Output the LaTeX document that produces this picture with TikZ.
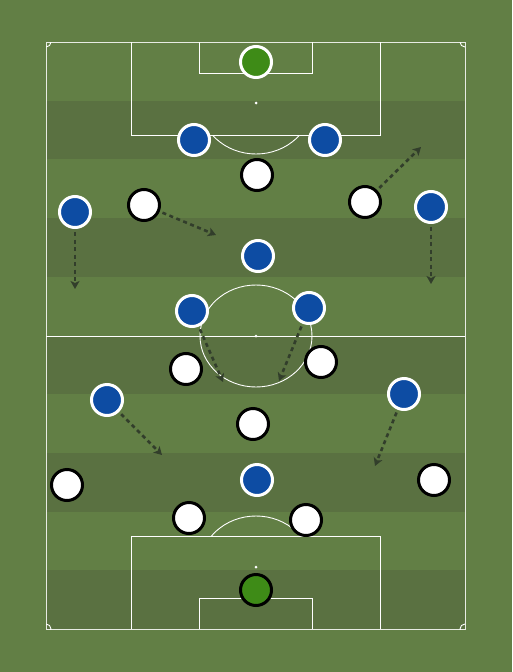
\documentclass[tikz,border=0pt]{standalone}
\usetikzlibrary{arrows.meta}
\definecolor{grass}{HTML}{627F45}
\definecolor{dgrass}{HTML}{5A7141}
\definecolor{pblue}{HTML}{0D4CA3}
\definecolor{gkgreen}{HTML}{3E8B17}
\definecolor{runcol}{HTML}{323E2B}
\tikzset{
  pline/.style={draw=white, line width=0.9pt},
  bplayer/.style={circle, fill=pblue, draw=white, line width=3pt, minimum size=31pt, inner sep=0pt},
  wplayer/.style={circle, fill=white, draw=black, line width=3pt, minimum size=31pt, inner sep=0pt},
  gkone/.style={circle, fill=gkgreen, draw=white, line width=3pt, minimum size=31pt, inner sep=0pt},
  gktwo/.style={circle, fill=gkgreen, draw=black, line width=3pt, minimum size=31pt, inner sep=0pt},
  run/.style={draw=runcol, line width=2.6pt, dash pattern=on 4pt off 3.5pt, shorten <=3pt, -{Stealth[length=8pt,width=9pt,inset=2pt]}}
}
\begin{document}
\begin{tikzpicture}[x=1pt,y=-1pt]
\fill[grass] (0,0) rectangle (512,672);
\useasboundingbox (0,0) rectangle (512,672);
% stripes
\foreach \yy in {100.7,218.1,335.5,452.9,570.3}
  \fill[dgrass] (46,\yy) rectangle (465,\yy+58.7);
% outline
\draw[pline, draw opacity=0.85] (46,42) rectangle (465,629);
\draw[pline] (46,336) -- (465,336);
\draw[pline] (256,336) ellipse [x radius=56pt, y radius=51pt];
\fill[white] (256,336) circle[radius=1.5pt];
% top
\draw[pline] (131,42) -- (131,135) -- (380,135) -- (380,42);
\draw[pline] (199,42) -- (199,73) -- (312,73) -- (312,42);
\fill[white] (256,103) circle[radius=1.5pt];
\begin{scope}
  \clip (0,135) rectangle (512,300);
  \draw[pline] (256,103) ellipse [x radius=56pt, y radius=51pt];
\end{scope}
% bottom
\draw[pline] (131,629) -- (131,536) -- (380,536) -- (380,629);
\draw[pline] (199,629) -- (199,598) -- (312,598) -- (312,629);
\fill[white] (256,567) circle[radius=1.5pt];
\begin{scope}
  \clip (0,400) rectangle (512,536);
  \draw[pline] (256,567) ellipse [x radius=56pt, y radius=51pt];
\end{scope}
% corners
\begin{scope}
  \clip (46,42) rectangle (465,629);
  \foreach \cx/\cy in {46/42,465/42,46/629,465/629}
    \draw[pline] (\cx,\cy) circle[radius=5pt];
\end{scope}
% run targets
\coordinate (e1) at (216,235);
\coordinate (e2) at (75,289);
\coordinate (e3) at (421,147);
\coordinate (e4) at (431,284);
\coordinate (e5) at (223,382);
\coordinate (e6) at (279,381);
\coordinate (e7) at (162,455);
\coordinate (e8) at (375,466);
% blue team
\node[gkone] (bgk) at (256,62) {};
\node[bplayer] (b1) at (194,140) {};
\node[bplayer] (b2) at (325,140) {};
\node[bplayer] (b3) at (75,212) {};
\node[bplayer] (b4) at (431,207) {};
\node[bplayer] (b5) at (258,256) {};
\node[bplayer] (b6) at (192,311) {};
\node[bplayer] (b7) at (309,308) {};
\node[bplayer] (b8) at (107,400) {};
\node[bplayer] (b9) at (404,394) {};
\node[bplayer] (b10) at (257,480) {};
% white team
\node[wplayer] (w1) at (257,175) {};
\node[wplayer] (w2) at (144,205) {};
\node[wplayer] (w3) at (365,202) {};
\node[wplayer] (w4) at (186,369) {};
\node[wplayer] (w5) at (321,362) {};
\node[wplayer] (w6) at (253,424) {};
\node[wplayer] (w7) at (67,485) {};
\node[wplayer] (w8) at (434,480) {};
\node[wplayer] (w9) at (189,518) {};
\node[wplayer] (w10) at (306,520) {};
\node[gktwo] (wgk) at (256,590) {};
% runs
\begin{scope}[on background layer/.style={}]
\draw[run] (w2) -- (e1);
\draw[run] (b3) -- (e2);
\draw[run] (w3) -- (e3);
\draw[run] (b4) -- (e4);
\draw[run] (b6) -- (e5);
\draw[run] (b7) -- (e6);
\draw[run] (b8) -- (e7);
\draw[run] (b9) -- (e8);
\end{scope}
\end{tikzpicture}
\end{document}
